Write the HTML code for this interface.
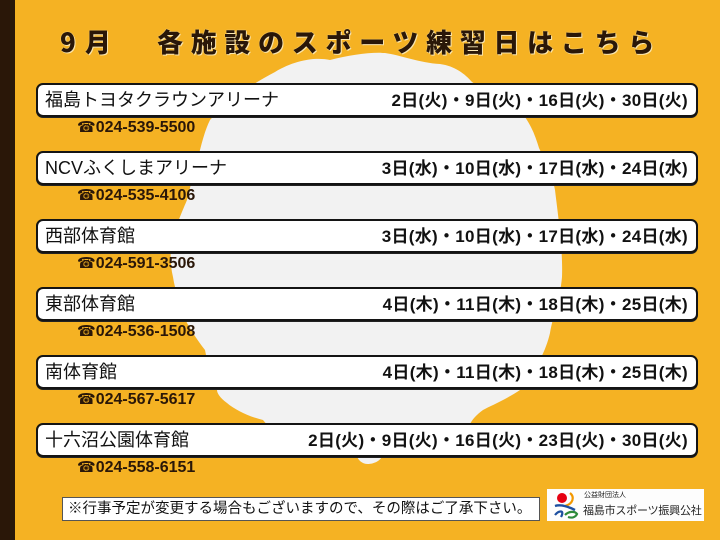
<!DOCTYPE html>
<html><head><meta charset="utf-8">
<style>
*{margin:0;padding:0;box-sizing:border-box}
html,body{width:720px;height:540px;overflow:hidden}
body{position:relative;background:#f5b223;font-family:"Liberation Sans","Noto Sans CJK JP",sans-serif;color:#111}
.bar{position:absolute;left:0;top:0;width:15px;height:540px;background:#2a1708}
svg.bg{position:absolute;left:0;top:0}
.title{position:absolute;top:28px;height:28px;line-height:28px;font-family:"Noto Sans CJK JP",sans-serif;font-weight:900;font-size:26px;color:#2a1708;white-space:nowrap;text-shadow:0 0 1px #fff3cf,1px 1px 0 #f9e3a8}
.row{position:absolute;left:36px;width:662px;height:34px;background:#fff;border:2.5px solid #141414;border-radius:7px;box-shadow:0 1px 0 #222}
.row .n{position:absolute;left:7px;top:0;line-height:31px;font-size:18px;font-family:"Liberation Sans","Noto Sans CJK JP",sans-serif;white-space:nowrap}
.row .d{position:absolute;right:8px;top:0;line-height:31px;font-size:17px;font-weight:bold;white-space:nowrap;letter-spacing:0.3px}
.ph{position:absolute;left:77px;height:21px;line-height:21px;font-size:16px;font-weight:bold;color:#2a1708;white-space:nowrap}
.ph span{font-family:"DejaVu Sans",sans-serif;font-weight:bold;font-size:15px}
.note{position:absolute;left:62px;top:497px;width:478px;height:24px;background:#fff;border:1px solid #555;line-height:22px;font-size:14.5px;padding-left:5px;white-space:nowrap}
.logo{position:absolute;left:547px;top:489px;width:157px;height:32px;background:#fdfdfd}
.logo .s{position:absolute;left:37px;top:2px;font-size:7px;line-height:9px;white-space:nowrap;color:#222}
.logo .b{position:absolute;left:36px;top:15px;font-size:11px;line-height:14px;white-space:nowrap;color:#222;letter-spacing:-0.2px}
</style></head>
<body>
<svg class="bg" width="720" height="540" viewBox="0 0 720 540">
<path fill="#f2f2f2" d="M385,53 C400,55 420,63 440,64 C455,66 465,74 472,82 C492,95 515,108 525,117 C532,127 536,138 539,148 C547,165 553,178 555,190 C558,215 563,250 562,277 C560,300 553,315 550,333 C545,355 532,375 520,390 C505,400 490,406 483,410 C476,415 472,420 470,424 L470,440 C440,448 400,452 382,456 C380,462 372,464 368,464 C362,464 358,460 357,456 L280,440 L263,420 C250,417 235,410 227,403 C220,398 217,393 217,390 C210,375 207,360 205,350 C197,340 191,330 187,323 C180,305 175,290 173,277 C170,265 170,250 172,240 C178,220 185,205 187,200 C192,180 197,160 200,150 C203,138 206,128 210,120 C225,103 245,88 275,72 C295,60 315,57 330,60 C350,55 370,52 385,53 Z"/>
</svg>
<div class="bar"></div>
<div class="title" style="left:60px;letter-spacing:9px">9月</div>
<div class="title" style="left:157px;letter-spacing:7.7px">各施設のスポーツ練習日はこちら</div>

<div class="row" style="top:83px"><div class="n">福島トヨタクラウンアリーナ</div><div class="d">2日(火)・9日(火)・16日(火)・30日(火)</div></div>
<div class="ph" style="top:117px"><span>☎</span>024-539-5500</div>

<div class="row" style="top:151px"><div class="n">NCVふくしまアリーナ</div><div class="d">3日(水)・10日(水)・17日(水)・24日(水)</div></div>
<div class="ph" style="top:185px"><span>☎</span>024-535-4106</div>

<div class="row" style="top:219px"><div class="n">西部体育館</div><div class="d">3日(水)・10日(水)・17日(水)・24日(水)</div></div>
<div class="ph" style="top:253px"><span>☎</span>024-591-3506</div>

<div class="row" style="top:287px"><div class="n">東部体育館</div><div class="d">4日(木)・11日(木)・18日(木)・25日(木)</div></div>
<div class="ph" style="top:321px"><span>☎</span>024-536-1508</div>

<div class="row" style="top:355px"><div class="n">南体育館</div><div class="d">4日(木)・11日(木)・18日(木)・25日(木)</div></div>
<div class="ph" style="top:389px"><span>☎</span>024-567-5617</div>

<div class="row" style="top:423px"><div class="n">十六沼公園体育館</div><div class="d">2日(火)・9日(火)・16日(火)・23日(火)・30日(火)</div></div>
<div class="ph" style="top:457px"><span>☎</span>024-558-6151</div>

<div class="note">※行事予定が変更する場合もございますので、その際はご了承下さい。</div>
<div class="logo">
<svg width="34" height="32" viewBox="0 0 34 32" style="position:absolute;left:4px;top:0">
<circle cx="11" cy="9" r="5" fill="#e60012"/>
<path d="M19,4 C24,8 22,15 14,17" fill="none" stroke="#f39800" stroke-width="2.2"/>
<path d="M4,17 C10,15 18,18 24,21" fill="none" stroke="#1d4fa0" stroke-width="2.4"/>
<path d="M4,26 C8,21 14,21 10,28" fill="none" stroke="#1d4fa0" stroke-width="2.2"/>
<path d="M14,26 C18,22 24,22 26,25 C24,29 20,29 17,28" fill="none" stroke="#2e8b3a" stroke-width="2.2"/>
</svg>
<div class="s">公益財団法人</div>
<div class="b">福島市スポーツ振興公社</div>
</div>
</body></html>
